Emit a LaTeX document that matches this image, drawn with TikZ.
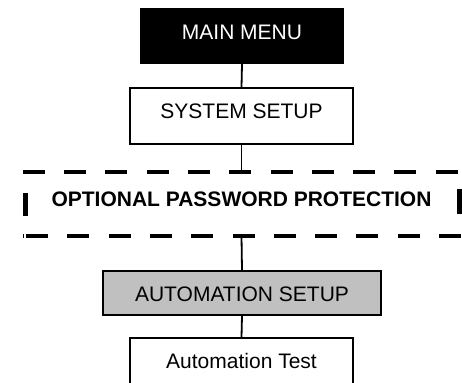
\documentclass[tikz,border=0pt]{standalone}
\usepackage{fontspec}
\setmainfont{Liberation Sans}
\definecolor{boxgray}{HTML}{C0C0C0}
\begin{document}
\begin{tikzpicture}[x=1pt,y=-1pt,
  box/.style={draw=black,line width=1.8pt,inner sep=0pt,font=\fontsize{21}{25}\selectfont},
  conn/.style={line width=1.8pt},
  dashside/.style={line width=4.5pt,dash pattern=on 22pt off 19.3pt}]
\useasboundingbox (0,0) rectangle (462,382);
\clip (0,0) rectangle (462,382);
\node[box,fill=black,text=white,minimum width=202pt,minimum height=54pt,
      text height=15pt,text depth=7pt] (main) at (242,36) {MAIN MENU};
\node[box,fill=white,minimum width=223pt,minimum height=56pt,
      text height=15pt,text depth=10.4pt] (sys) at (241.5,116) {SYSTEM SETUP};
\node[inner sep=0pt,minimum width=433pt,minimum height=64pt,
      text height=15pt,text depth=11pt,font=\fontsize{21}{25}\selectfont\bfseries]
      (opt) at (241.5,204) {OPTIONAL PASSWORD PROTECTION};
\node[box,fill=boxgray,minimum width=278pt,minimum height=44pt,
      text height=17.7pt,text depth=0.3pt] (auto) at (242,293) {AUTOMATION SETUP\hspace{19pt}};
\node[box,fill=white,minimum width=223pt,minimum height=56pt,
      text height=15pt,text depth=10.4pt] (test) at (241.5,366) {Automation Test};
% dashed outline
\draw[dashside] (22.7,172) -- (458,172);
\draw[dashside] (26,236) -- (462,236);
\draw[line width=4.5pt] (22.5,236) -- (24,236);
\draw[line width=5pt] (25,193) -- (25,216);
\draw[line width=5pt] (459,189) -- (459,214);
% connectors
\draw[conn] (main.south) -- (sys.north);
\draw[conn] (sys.south) -- (opt.north);
\draw[conn] (opt.south) -- (auto.north);
\draw[conn] (auto.south) -- (test.north);
\end{tikzpicture}
\end{document}
